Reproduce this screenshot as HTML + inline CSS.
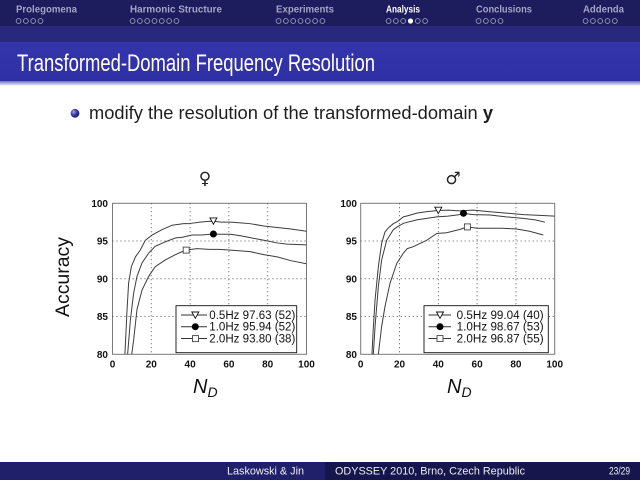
<!DOCTYPE html>
<html><head><meta charset="utf-8"><style>
html,body{margin:0;padding:0;background:#fff;width:640px;height:480px;overflow:hidden}
svg{display:block}
</style></head><body>
<svg width="640" height="480" viewBox="0 0 640 480" xmlns="http://www.w3.org/2000/svg" font-family="'Liberation Sans', sans-serif">
<defs>
<linearGradient id="tb" x1="0" y1="0" x2="0" y2="1">
<stop offset="0" stop-color="#3434ab"/><stop offset="1" stop-color="#3030a6"/>
</linearGradient>
<linearGradient id="sh" x1="0" y1="0" x2="0" y2="1">
<stop offset="0" stop-color="#6a6ac4"/><stop offset="1" stop-color="#ffffff"/>
</linearGradient>
<radialGradient id="ball" cx="0.35" cy="0.35" r="0.7">
<stop offset="0" stop-color="#a0a0ee"/><stop offset="0.5" stop-color="#3a3aa8"/><stop offset="1" stop-color="#1a1a60"/>
</radialGradient>
<clipPath id="c1"><rect x="112.5" y="203.3" width="194" height="151"/></clipPath>
<clipPath id="c2"><rect x="360.7" y="203.3" width="194" height="151"/></clipPath>
</defs>

<!-- header -->
<rect x="0" y="0" width="640" height="26" fill="#1d1d5e"/>
<rect x="0" y="26" width="640" height="16" fill="#28287e"/>
<rect x="0" y="42" width="640" height="39" fill="url(#tb)"/>
<rect x="0" y="81" width="640" height="5" fill="url(#sh)"/>

<g font-size="9.7" font-weight="bold" fill="#a4a4c6">
<text x="16" y="12.5" textLength="61" lengthAdjust="spacingAndGlyphs">Prolegomena</text>
<text x="130" y="12.5" textLength="92" lengthAdjust="spacingAndGlyphs">Harmonic Structure</text>
<text x="276" y="12.5" textLength="58" lengthAdjust="spacingAndGlyphs">Experiments</text>
<text x="386" y="12.5" textLength="34" lengthAdjust="spacingAndGlyphs" fill="#ffffff">Analysis</text>
<text x="476" y="12.5" textLength="56" lengthAdjust="spacingAndGlyphs">Conclusions</text>
<text x="583" y="12.5" textLength="41" lengthAdjust="spacingAndGlyphs">Addenda</text>
</g>
<g fill="none" stroke="#9a9ac0" stroke-width="0.9">
<circle cx="18.6" cy="21" r="2.4"/><circle cx="25.9" cy="21" r="2.4"/><circle cx="33.2" cy="21" r="2.4"/><circle cx="40.5" cy="21" r="2.4"/>
<circle cx="132.6" cy="21" r="2.4"/><circle cx="139.9" cy="21" r="2.4"/><circle cx="147.2" cy="21" r="2.4"/><circle cx="154.5" cy="21" r="2.4"/><circle cx="161.8" cy="21" r="2.4"/><circle cx="169.1" cy="21" r="2.4"/><circle cx="176.4" cy="21" r="2.4"/>
<circle cx="278.6" cy="21" r="2.4"/><circle cx="285.9" cy="21" r="2.4"/><circle cx="293.2" cy="21" r="2.4"/><circle cx="300.5" cy="21" r="2.4"/><circle cx="307.8" cy="21" r="2.4"/><circle cx="315.1" cy="21" r="2.4"/><circle cx="322.4" cy="21" r="2.4"/>
<circle cx="388.6" cy="21" r="2.4"/><circle cx="395.9" cy="21" r="2.4"/><circle cx="403.2" cy="21" r="2.4"/><circle cx="417.8" cy="21" r="2.4"/><circle cx="425.1" cy="21" r="2.4"/>
<circle cx="478.6" cy="21" r="2.4"/><circle cx="485.9" cy="21" r="2.4"/><circle cx="493.2" cy="21" r="2.4"/><circle cx="500.5" cy="21" r="2.4"/>
<circle cx="585.6" cy="21" r="2.4"/><circle cx="592.9" cy="21" r="2.4"/><circle cx="600.2" cy="21" r="2.4"/><circle cx="607.5" cy="21" r="2.4"/><circle cx="614.8" cy="21" r="2.4"/>
</g>
<circle cx="410.5" cy="21" r="2.6" fill="#ffffff"/>

<text x="17" y="71" font-size="24.5" fill="#ffffff" textLength="358" lengthAdjust="spacingAndGlyphs">Transformed-Domain Frequency Resolution</text>

<!-- bullet -->
<circle cx="75" cy="113.3" r="4.4" fill="url(#ball)"/>
<text x="89" y="119" font-size="18.3" fill="#1e1e1e" textLength="404" lengthAdjust="spacingAndGlyphs">modify the resolution of the transformed-domain <tspan font-weight="bold">y</tspan></text>

<!-- symbols -->
<text x="205" y="184" font-size="17" text-anchor="middle" font-family="'DejaVu Sans', sans-serif" fill="#222">♀</text>
<text x="453" y="184" font-size="17" text-anchor="middle" font-family="'DejaVu Sans', sans-serif" fill="#222">♂</text>

<!-- y label -->
<text transform="translate(69,277) rotate(-90)" x="0" y="0" font-size="19" text-anchor="middle" fill="#111" textLength="80" lengthAdjust="spacingAndGlyphs">Accuracy</text>

<!-- LEFT PLOT -->
<rect x="112.5" y="203.3" width="194" height="151" fill="#fff" stroke="#7a7a7a" stroke-width="1"/>
<g stroke="#555" stroke-width="1" stroke-dasharray="1,3" fill="none">
<line x1="151.3" y1="203.3" x2="151.3" y2="354.3"/><line x1="190.1" y1="203.3" x2="190.1" y2="354.3"/><line x1="228.9" y1="203.3" x2="228.9" y2="354.3"/><line x1="267.7" y1="203.3" x2="267.7" y2="354.3"/>
<line x1="112.5" y1="241.05" x2="306.5" y2="241.05"/><line x1="112.5" y1="278.8" x2="306.5" y2="278.8"/><line x1="112.5" y1="316.55" x2="306.5" y2="316.55"/>
</g>
<g clip-path="url(#c1)">
<g transform="translate(112.5,958.3) scale(1.94,-7.55)" fill="none" stroke="#3c3c3c">
<polyline vector-effect="non-scaling-stroke" stroke-width="1" points="6.3,78 6.4,80 7.5,85.9 8.3,89.4 9.7,91.6 11.8,92.9 14.3,93.8 16.9,95.1 20.4,95.8 25.5,96.5 30.7,97.1 36.7,97.3 39.3,97.3 45,97.5 49.6,97.6 52,97.63 56,97.5 60.8,97.5 66,97.4 71,97.3 78,97.0 84.9,96.8 92,96.6 100,96.3"/>
<polyline vector-effect="non-scaling-stroke" stroke-width="1" points="7.7,78 7.8,80 9.2,84.5 10.9,88.1 12.6,90.3 15.2,92.1 18.6,93.4 22,94.3 27.2,94.9 32.4,95.4 36,95.5 41,95.8 46,95.8 52,95.94 56,95.9 60.8,95.9 66,95.7 71,95.45 78,95.1 84.9,94.75 90,94.6 100,94.5"/>
<polyline vector-effect="non-scaling-stroke" stroke-width="1" points="9.8,78 9.9,80 10.9,81.9 12.6,85.9 15.2,88.5 18.6,90.3 22,91.6 27.2,92.5 32.4,93.2 35,93.5 38,93.8 43.5,94.0 50,93.9 55,93.9 60.8,93.8 66,93.7 71,93.6 78,93.2 84.9,92.9 92,92.4 100,92.0"/>
</g>
</g>
<polygon points="209.9,217.9 216.9,217.9 213.4,224.2" fill="#fff" stroke="#111" stroke-width="0.9"/>
<circle cx="213.4" cy="234" r="3.5" fill="#000"/>
<rect x="183.2" y="247.1" width="6" height="6" fill="#fff" stroke="#444" stroke-width="0.9"/>

<g font-size="10" font-weight="bold" fill="#111">
<g text-anchor="end">
<text x="108" y="206.9">100</text><text x="108" y="244.6">95</text><text x="108" y="282.4">90</text><text x="108" y="320.1">85</text><text x="108" y="357.9">80</text>
</g>
<g text-anchor="middle">
<text x="112.5" y="367.3">0</text><text x="151.3" y="367.3">20</text><text x="190.1" y="367.3">40</text><text x="228.9" y="367.3">60</text><text x="267.7" y="367.3">80</text><text x="306.5" y="367.3">100</text>
</g>
</g>

<rect x="176" y="305.7" width="120.7" height="47" fill="#fff" stroke="#111" stroke-width="0.9"/>
<g stroke="#333" stroke-width="1">
<line x1="181" y1="315" x2="207" y2="315"/><line x1="181" y1="326.7" x2="207" y2="326.7"/><line x1="181" y1="338.5" x2="207" y2="338.5"/>
</g>
<polygon points="191.8,312 198.8,312 195.3,318.3" fill="#fff" stroke="#111" stroke-width="0.9"/>
<circle cx="195.3" cy="326.7" r="3.5" fill="#000"/>
<rect x="192.5" y="335.6" width="6" height="6" fill="#fff" stroke="#444" stroke-width="0.9"/>
<g font-size="11.5" fill="#111">
<text x="209.3" y="319" textLength="86" lengthAdjust="spacingAndGlyphs">0.5Hz 97.63 (52)</text>
<text x="209.3" y="330.7" textLength="86" lengthAdjust="spacingAndGlyphs">1.0Hz 95.94 (52)</text>
<text x="209.3" y="342.5" textLength="86" lengthAdjust="spacingAndGlyphs">2.0Hz 93.80 (38)</text>
</g>
<text x="193" y="393" font-size="20" font-style="italic" fill="#111">N<tspan font-size="14" dy="4">D</tspan></text>

<!-- RIGHT PLOT -->
<rect x="360.7" y="203.3" width="194" height="151" fill="#fff" stroke="#7a7a7a" stroke-width="1"/>
<g stroke="#555" stroke-width="1" stroke-dasharray="1,3" fill="none">
<line x1="399.5" y1="203.3" x2="399.5" y2="354.3"/><line x1="438.3" y1="203.3" x2="438.3" y2="354.3"/><line x1="477.1" y1="203.3" x2="477.1" y2="354.3"/><line x1="515.9" y1="203.3" x2="515.9" y2="354.3"/>
<line x1="360.7" y1="241.05" x2="554.7" y2="241.05"/><line x1="360.7" y1="278.8" x2="554.7" y2="278.8"/><line x1="360.7" y1="316.55" x2="554.7" y2="316.55"/>
</g>
<g clip-path="url(#c2)">
<g transform="translate(360.7,958.3) scale(1.94,-7.55)" fill="none" stroke="#3c3c3c">
<polyline vector-effect="non-scaling-stroke" stroke-width="1" points="5.7,78 5.8,80 6.4,83 7.4,87.2 9.1,91.6 10.8,94.7 12.5,96.2 14.5,96.8 16.8,97.3 19,97.6 22,98.2 25,98.4 28.9,98.7 34,98.9 40,99.04 45,99.1 51.2,99.0 58,99.1 66,98.9 75.2,98.7 84,98.5 92.4,98.4 100,98.3"/>
<polyline vector-effect="non-scaling-stroke" stroke-width="1" points="6.4,78 6.5,80 7.5,84 9.1,89 10.8,92.5 13.4,95.1 16.8,96.5 19,96.9 22,97.35 28.9,97.8 34,98.0 39.2,98.2 45,98.3 51,98.5 53,98.67 58,98.5 66.6,98.45 75,98.2 83.8,98.0 90,97.8 95,97.5"/>
<polyline vector-effect="non-scaling-stroke" stroke-width="1" points="9,78 9.1,80 10.8,83.7 12.5,86.3 15.1,89.4 18.6,92.05 22,93.4 24,94.0 27.1,94.25 34,95.1 39.2,96.0 44.3,96.1 51.2,96.55 55,96.87 60,96.7 66.6,96.7 73,96.7 80.4,96.6 87,96.3 94.1,95.8"/>
</g>
</g>
<polygon points="434.8,207.2 441.8,207.2 438.3,213.6" fill="#fff" stroke="#111" stroke-width="0.9"/>
<circle cx="463.5" cy="213.3" r="3.5" fill="#000"/>
<rect x="464.4" y="223.9" width="6" height="6" fill="#fff" stroke="#444" stroke-width="0.9"/>

<g font-size="10" font-weight="bold" fill="#111">
<g text-anchor="end">
<text x="357" y="206.9">100</text><text x="357" y="244.6">95</text><text x="357" y="282.4">90</text><text x="357" y="320.1">85</text><text x="357" y="357.9">80</text>
</g>
<g text-anchor="middle">
<text x="360.7" y="367.3">0</text><text x="399.5" y="367.3">20</text><text x="438.3" y="367.3">40</text><text x="477.1" y="367.3">60</text><text x="515.9" y="367.3">80</text><text x="554.7" y="367.3">100</text>
</g>
</g>

<rect x="424" y="305.7" width="124.3" height="47" fill="#fff" stroke="#111" stroke-width="0.9"/>
<g stroke="#333" stroke-width="1">
<line x1="428.5" y1="315" x2="451" y2="315"/><line x1="428.5" y1="326.7" x2="451" y2="326.7"/><line x1="428.5" y1="338.5" x2="451" y2="338.5"/>
</g>
<polygon points="436.5,312 443.5,312 440,318.3" fill="#fff" stroke="#111" stroke-width="0.9"/>
<circle cx="440" cy="326.7" r="3.5" fill="#000"/>
<rect x="437" y="335.6" width="6" height="6" fill="#fff" stroke="#444" stroke-width="0.9"/>
<g font-size="11.5" fill="#111">
<text x="456.7" y="319" textLength="87" lengthAdjust="spacingAndGlyphs">0.5Hz 99.04 (40)</text>
<text x="456.7" y="330.7" textLength="87" lengthAdjust="spacingAndGlyphs">1.0Hz 98.67 (53)</text>
<text x="456.7" y="342.5" textLength="87" lengthAdjust="spacingAndGlyphs">2.0Hz 96.87 (55)</text>
</g>
<text x="447" y="393" font-size="20" font-style="italic" fill="#111">N<tspan font-size="14" dy="4">D</tspan></text>

<!-- footer -->
<rect x="0" y="462" width="325" height="18" fill="#20206a"/>
<rect x="325" y="462" width="315" height="18" fill="#16164c"/>
<g font-size="10.8" fill="#ececf4">
<text x="227" y="474.5" textLength="77" lengthAdjust="spacingAndGlyphs">Laskowski &amp; Jin</text>
<text x="335" y="474.5" textLength="190" lengthAdjust="spacingAndGlyphs">ODYSSEY 2010, Brno, Czech Republic</text>
<text x="609" y="474.5" textLength="21" lengthAdjust="spacingAndGlyphs">23/29</text>
</g>
</svg>
</body></html>
